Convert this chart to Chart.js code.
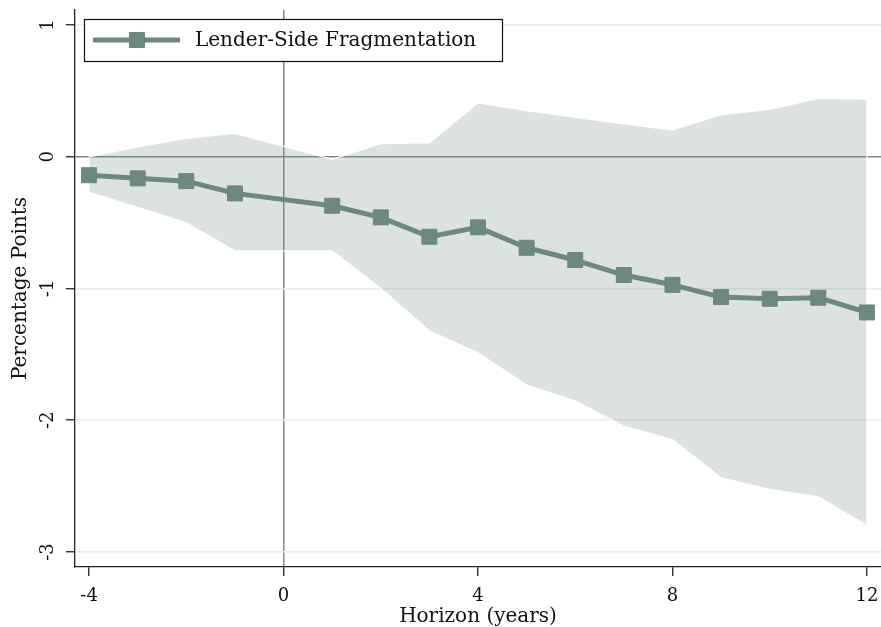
<!DOCTYPE html>
<html>
<head>
<meta charset="utf-8">
<title>Lender-Side Fragmentation</title>
<script src="https://cdn.jsdelivr.net/npm/chart.js@4.4.1/dist/chart.umd.min.js"></script>
<style>
  html, body { margin: 0; padding: 0; background: #ffffff; }
  #wrap { width: 881px; height: 627px; }
</style>
</head>
<body>
<div id="wrap"><canvas id="chart" width="881" height="627"></canvas></div>
<script>
// Horizons (years); horizon 0 is the omitted base period
const horizons = [-4, -3, -2, -1, 1, 2, 3, 4, 5, 6, 7, 8, 9, 10, 11, 12];
// Point estimates (percentage points)
const estimate = [-0.14, -0.164, -0.185, -0.278, -0.372, -0.46, -0.607, -0.536, -0.691, -0.784, -0.898, -0.972, -1.065, -1.078, -1.07, -1.182];
// Confidence band bounds
const ciUpper = [0.0, 0.075, 0.14, 0.178, -0.02, 0.10, 0.106, 0.41, 0.35, 0.30, 0.25, 0.203, 0.319, 0.36, 0.443, 0.438];
const ciLower = [-0.27, -0.384, -0.501, -0.714, -0.714, -1.0, -1.321, -1.488, -1.733, -1.853, -2.045, -2.146, -2.437, -2.525, -2.582, -2.797];
// Axis ticks
const xTicks = [-4, 0, 4, 8, 12];
const yTicks = [-3, -2, -1, 0, 1];

const seriesLabel = 'Lender-Side Fragmentation';
const xTitle = 'Horizon (years)';
const yTitle = 'Percentage Points';

const SERIF = '"DejaVu Serif", "Liberation Serif", serif';
const lineColor = '#6c897e';
const bandColor = 'rgba(110,139,128,0.25)';
const refColor = '#7f8783';
const gridColor = '#e7eef0';
const inkColor = '#111111';

const pointsOf = (ys) => horizons.map((h, i) => ({ x: h, y: ys[i] }));

// Band polygon: upper edge left to right, lower edge back, then closed
const bandShape = pointsOf(ciUpper).concat(pointsOf(ciLower).reverse());
bandShape.push(bandShape[0]);

// Vertical tick labels on the y axis (read bottom to top)
const yTickLabels = {
  id: 'yTickLabels',
  afterDraw(chart) {
    const { ctx } = chart;
    const ys = chart.scales.y;
    ctx.save();
    ctx.font = '18px ' + SERIF;
    ctx.fillStyle = inkColor;
    ctx.textAlign = 'center';
    ctx.textBaseline = 'middle';
    ys.ticks.forEach((t) => {
      const py = ys.getPixelForValue(t.value);
      ctx.save();
      ctx.translate(48, py);
      ctx.rotate(-Math.PI / 2);
      ctx.fillText(String(t.value), 0, 0);
      ctx.restore();
    });
    ctx.restore();
  }
};

// Boxed legend in the upper-left corner of the plot
const boxLegend = {
  id: 'boxLegend',
  afterDraw(chart) {
    const { ctx } = chart;
    const ds = chart.data.datasets[0];
    const bx = 84, by = 19, bw = 418, bh = 42;
    const cy = by + bh / 2;
    ctx.save();
    ctx.fillStyle = '#ffffff';
    ctx.fillRect(bx, by, bw, bh);
    ctx.strokeStyle = inkColor;
    ctx.lineWidth = 1.2;
    ctx.strokeRect(bx + 0.5, by + 0.5, bw, bh);
    ctx.strokeStyle = ds.borderColor;
    ctx.lineWidth = ds.borderWidth;
    ctx.beginPath();
    ctx.moveTo(93, cy);
    ctx.lineTo(180, cy);
    ctx.stroke();
    ctx.fillStyle = ds.pointBackgroundColor;
    ctx.fillRect(137 - 8, cy - 8, 16, 16);
    ctx.fillStyle = inkColor;
    ctx.font = '20px ' + SERIF;
    ctx.textAlign = 'left';
    ctx.textBaseline = 'middle';
    ctx.fillText(ds.label, 195, cy + 1);
    ctx.restore();
  }
};

new Chart(document.getElementById('chart'), {
  type: 'line',
  data: {
    datasets: [
      {
        label: seriesLabel,
        data: pointsOf(estimate),
        borderColor: lineColor,
        borderWidth: 5,
        borderJoinStyle: 'round',
        pointStyle: 'rect',
        pointRadius: 10.6,
        pointBackgroundColor: lineColor,
        pointBorderColor: lineColor,
        pointBorderWidth: 1,
        fill: false,
        tension: 0,
        order: 1
      },
      {
        label: '95% CI',
        data: bandShape,
        backgroundColor: bandColor,
        borderColor: 'rgba(255,255,255,0.95)',
        borderWidth: 1.3,
        pointRadius: 0,
        fill: 'shape',
        tension: 0,
        order: 2
      }
    ]
  },
  options: {
    responsive: false,
    animation: false,
    devicePixelRatio: 1,
    layout: { autoPadding: false, padding: { top: 10, right: 0, bottom: 0, left: 0 } },
    plugins: { legend: { display: false }, tooltip: { enabled: false } },
    scales: {
      x: {
        type: 'linear',
        min: -4.29,
        max: 12.29,
        afterBuildTicks: (s) => { s.ticks = xTicks.map((v) => ({ value: v })); },
        afterFit: (s) => { s.height = 60; s.paddingLeft = 0; s.paddingRight = 0; },
        ticks: {
          font: { family: SERIF, size: 18 },
          color: inkColor,
          padding: 10,
          autoSkip: false,
          maxRotation: 0,
          callback: (v) => String(v)
        },
        grid: {
          color: (c) => (c.tick && c.tick.value === 0 ? refColor : 'rgba(0,0,0,0)'),
          lineWidth: 1.5,
          tickColor: '#222222',
          tickLength: 9,
          tickWidth: 1.3
        },
        border: { color: '#222222', width: 1.3 },
        title: {
          display: true,
          text: xTitle,
          font: { family: SERIF, size: 20 },
          color: inkColor,
          padding: { top: 0, bottom: -2 }
        }
      },
      y: {
        type: 'linear',
        min: -3.114,
        max: 1.114,
        afterBuildTicks: (s) => { s.ticks = yTicks.map((v) => ({ value: v })); },
        afterFit: (s) => { s.width = 75; s.paddingTop = 0; s.paddingBottom = 0; },
        ticks: { display: false },
        grid: {
          color: (c) => (c.tick && c.tick.value === 0 ? refColor : gridColor),
          lineWidth: 1.5,
          tickColor: '#222222',
          tickLength: 9,
          tickWidth: 1.3
        },
        border: { color: '#222222', width: 1.3 },
        title: {
          display: true,
          text: yTitle,
          font: { family: SERIF, size: 20 },
          color: inkColor,
          padding: { top: 9, bottom: 0 }
        }
      }
    }
  },
  plugins: [yTickLabels, boxLegend]
});
</script>
</body>
</html>
